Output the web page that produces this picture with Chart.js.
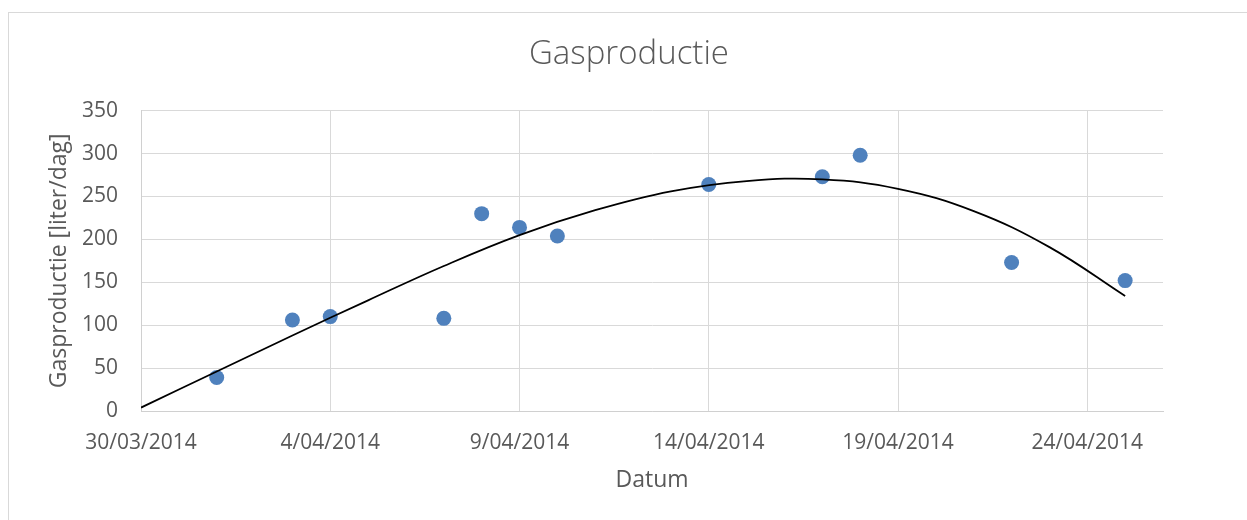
<!DOCTYPE html>
<html>
<head>
<meta charset="utf-8">
<script src="https://cdn.jsdelivr.net/npm/chart.js@4"></script>
<style>
  body { margin: 0; background: #fff; overflow: hidden; }
  #frame { position: absolute; left: 8px; top: 12px; width: 1400px; height: 700px; border: 1px solid #d9d9d9; }
  #myChart { position: absolute; left: 0; top: 0; }
</style>
</head>
<body>
<div id="frame"></div>
<canvas id="myChart" width="1247" height="520"></canvas>
<script>
/* measured data */
const dates = ['1/04/2014', '3/04/2014', '4/04/2014', '7/04/2014', '8/04/2014', '9/04/2014',
               '10/04/2014', '14/04/2014', '17/04/2014', '18/04/2014', '22/04/2014', '25/04/2014'];
const gas = [39, 106, 110, 108, 230, 214, 204, 264, 273, 298, 173, 152];

/* trend line (polynomial in Excel), every 2 days */
const trendDates = ['30/03/2014', '1/04/2014', '3/04/2014', '5/04/2014', '7/04/2014', '9/04/2014',
                    '11/04/2014', '13/04/2014', '15/04/2014', '17/04/2014', '19/04/2014',
                    '21/04/2014', '23/04/2014', '25/04/2014'];
const trendValues = [4, 46, 88, 129, 169, 205, 234, 256, 268, 270, 259, 233, 191, 134];

/* axis tick labels */
const xTickLabels = ['30/03/2014', '4/04/2014', '9/04/2014', '14/04/2014', '19/04/2014', '24/04/2014'];
const xEnd = '26/04/2014';
const yTicks = [0, 50, 100, 150, 200, 250, 300, 350];

/* day number counted from 30/03/2014 */
function toDay(s) {
    let p = s.split('/');
    let t = Date.UTC(+p[2], +p[1] - 1, +p[0]);
    return Math.round((t - Date.UTC(2014, 2, 30)) / 86400000);
}

const tickDays = xTickLabels.map(toDay);
const gray = '#595959';
const font = "'Open Sans', sans-serif";

const ctx = document.getElementById('myChart').getContext('2d');
const myChart = new Chart(ctx, {
    type: 'scatter',
    data: {
        datasets: [{
            label: 'Trend',
            data: trendDates.map((d, i) => ({ x: toDay(d), y: trendValues[i] })),
            showLine: true,
            borderColor: '#000000',
            borderWidth: 1.8,
            pointRadius: 0,
            tension: 0.4,
            order: 0
        }, {
            label: 'Gasproductie',
            data: dates.map((d, i) => ({ x: toDay(d), y: gas[i] })),
            backgroundColor: '#4f81bd',
            borderWidth: 0,
            pointRadius: 7.5,
            order: 1
        }]
    },
    options: {
        responsive: false,
        animation: false,
        layout: { padding: { left: 11, right: 0, top: 0, bottom: 0 } },
        plugins: {
            legend: { display: false },
            tooltip: { enabled: false },
            title: {
                display: true,
                text: 'Gasproductie',
                color: gray,
                font: { family: font, size: 33, weight: 300, lineHeight: 1.2 },
                padding: { top: 35, bottom: 36.1 }
            }
        },
        scales: {
            x: {
                type: 'linear',
                min: 0,
                max: toDay(xEnd),
                afterBuildTicks: function(scale) {
                    scale.ticks = tickDays.map(v => ({ value: v }));
                },
                afterFit: function(scale) { scale.height = 109; },
                grid: { color: '#d9d9d9', drawTicks: false },
                border: { color: '#d0d0d0' },
                ticks: {
                    color: gray,
                    padding: 19,
                    font: { family: font, size: 21 },
                    maxRotation: 0,
                    callback: function(v) {
                        let i = tickDays.indexOf(v);
                        return i >= 0 ? xTickLabels[i] : '';
                    }
                },
                title: {
                    display: true,
                    text: 'Datum',
                    color: gray,
                    font: { family: font, size: 23 },
                    padding: { top: 0, bottom: 26 }
                }
            },
            y: {
                min: yTicks[0],
                max: yTicks[yTicks.length - 1],
                ticks: {
                    stepSize: 50,
                    color: gray,
                    padding: 23,
                    font: { family: font, size: 21 }
                },
                afterFit: function(scale) { scale.width = 130; },
                grid: { color: '#d9d9d9', drawTicks: false },
                border: { color: '#d0d0d0' },
                title: {
                    display: true,
                    text: 'Gasproductie [liter/dag]',
                    color: gray,
                    font: { family: font, size: 23 },
                    padding: { top: 35, bottom: 0 }
                }
            },
            /* empty right axis, keeps the right margin */
            yRight: {
                position: 'right',
                display: true,
                afterFit: function(scale) { scale.width = 84; },
                grid: { display: false, drawTicks: false },
                border: { display: false },
                ticks: { display: false }
            }
        }
    }
});
</script>
</body>
</html>
